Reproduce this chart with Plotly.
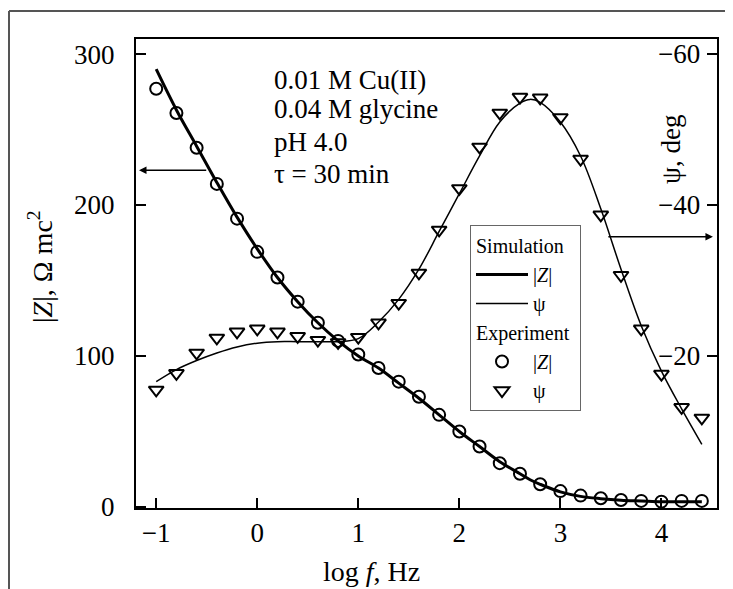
import plotly.graph_objects as go

# ---- data ----
log_f = [-1.0, -0.8, -0.6, -0.4, -0.2, 0.0, 0.2, 0.4, 0.6, 0.8, 1.0, 1.2, 1.4, 1.6,
         1.8, 2.0, 2.2, 2.4, 2.6, 2.8, 3.0, 3.2, 3.4, 3.6, 3.8, 4.0, 4.2, 4.4]

z_exp = [277, 261, 238, 214, 191, 169, 152, 136, 122, 110, 101, 92, 83, 73,
         61, 50, 40, 29, 22, 15, 10.5, 7.5, 5.8, 4.6, 4.0, 3.5, 4.0, 4.0]

psi_exp = [-15.5, -17.7, -20.4, -22.4, -23.2, -23.6, -23.2, -22.6, -22.1, -21.8, -22.5,
           -24.4, -27.0, -31.0, -36.7, -42.2, -47.7, -52.2, -54.3, -54.2, -51.6, -46.1,
           -38.7, -30.7, -23.6, -17.6, -13.2, -11.8]

sim_x = [-1.0, -0.8, -0.6, -0.4, -0.2, 0.0, 0.2, 0.4, 0.6, 0.8, 1.0, 1.2, 1.4, 1.6,
         1.8, 2.0, 2.2, 2.4, 2.6, 2.7, 2.8, 3.0, 3.2, 3.4, 3.6, 3.8, 4.0, 4.2, 4.4]

z_sim = [290, 263, 239, 215, 192, 171, 152, 136, 122, 110, 100, 92, 82, 72,
         61, 50, 40, 30, 22, 18, 15, 10, 7, 5.5, 4.5, 4.0, 3.5, 3.5, 3.5]

psi_sim = [-16.6, -18.2, -19.4, -20.4, -21.2, -21.7, -21.9, -21.9, -21.9, -21.9, -22.3,
           -24.5, -27.5, -31.5, -36.5, -41.5, -46.5, -51.0, -53.5, -54.0, -53.6, -51.0,
           -46.5, -39.5, -31.5, -24.0, -18.0, -13.0, -8.3]

x_ticks = [-1, 0, 1, 2, 3, 4]
z_ticks = [0, 100, 200, 300]
psi_ticks = [-60, -40, -20]
psi_tick_labels = ["−60", "−40", "−20"]

info_lines = ["0.01 M Cu(II)", "0.04 M glycine", "pH 4.0", "τ = 30 min"]

FONT = "Liberation Serif"
BLACK = "#000000"

# page is rendered with an 8 px body offset; margins compensate for it
W, H = 733, 589
ML, MT, MR, MB = 128, 31, 24, 89
PW, PH = W - ML - MR, H - MT - MB


def px(xr):
    """reference-picture x pixel -> paper x"""
    return (xr - 8 - ML) / PW


def py(yr):
    """reference-picture y pixel -> paper y"""
    return (H - MB - (yr - 8)) / PH


fig = go.Figure()

fig.add_trace(go.Scatter(
    x=sim_x, y=z_sim, mode="lines", name="|<i>Z</i>|",
    line=dict(color=BLACK, width=3, shape="spline"),
    legendgroup="sim", legendgrouptitle_text="Simulation"))
fig.add_trace(go.Scatter(
    x=sim_x, y=psi_sim, mode="lines", name="ψ", yaxis="y2",
    line=dict(color=BLACK, width=1.5, shape="spline"),
    legendgroup="sim", legendgrouptitle_text="Simulation"))
fig.add_trace(go.Scatter(
    x=log_f, y=z_exp, mode="markers", name="|<i>Z</i>|",
    marker=dict(symbol="circle-open", size=12, color=BLACK, line=dict(width=2)),
    legendgroup="exp", legendgrouptitle_text="Experiment"))
fig.add_trace(go.Scatter(
    x=log_f, y=psi_exp, mode="markers", name="ψ", yaxis="y2",
    marker=dict(symbol="triangle-down-open", size=13, color=BLACK, line=dict(width=2)),
    legendgroup="exp", legendgrouptitle_text="Experiment"))

fig.update_layout(
    width=W, height=H,
    margin=dict(l=ML, r=MR, t=MT, b=MB),
    paper_bgcolor="white", plot_bgcolor="white",
    font=dict(family=FONT, size=27, color=BLACK),
    showlegend=True,
    legend=dict(
        x=px(470), y=py(225), xanchor="left", yanchor="top",
        bordercolor="#666", borderwidth=1, bgcolor="white",
        font=dict(family=FONT, size=20, color=BLACK), traceorder="grouped",
        tracegroupgap=0, itemwidth=52,
        grouptitlefont=dict(family=FONT, size=20, color=BLACK)),
    xaxis=dict(
        range=[-1.2, 4.55], tickvals=x_ticks, ticks="inside", ticklen=10,
        tickwidth=2, tickcolor=BLACK, showline=True, linewidth=2,
        linecolor=BLACK, mirror=True, showgrid=False, zeroline=False,
        tickfont=dict(size=27, color=BLACK)),
    yaxis=dict(
        range=[-0.7, 310], tickvals=z_ticks, ticks="inside", ticklen=10,
        tickwidth=2, tickcolor=BLACK, showline=True, linewidth=2,
        linecolor=BLACK, showgrid=False, zeroline=False,
        ticklabelstandoff=14,
        tickfont=dict(size=27, color=BLACK)),
    yaxis2=dict(
        overlaying="y", side="right", range=[0.14, -62], tickvals=psi_ticks,
        ticks="inside", ticklen=10, tickwidth=2, tickcolor=BLACK,
        showticklabels=False, showline=True, linewidth=2,
        linecolor=BLACK, showgrid=False, zeroline=False),
)

# right-axis tick labels, drawn inside the plot next to the ticks
for val, lab in zip(psi_ticks, psi_tick_labels):
    fig.add_annotation(
        text=lab, xref="paper", yref="y2", x=px(702), y=val,
        xanchor="right", yanchor="middle", showarrow=False,
        font=dict(size=27, color=BLACK))

# text block, one annotation per line
for line, yc in zip(info_lines, [80, 109, 142, 174]):
    fig.add_annotation(
        text=line, xref="paper", yref="paper", x=px(272), y=py(yc),
        xanchor="left", yanchor="middle", align="left", showarrow=False,
        font=dict(size=27, color=BLACK))

# axis titles
fig.add_annotation(
    text="|<i>Z</i>|, Ω mc<sup>2</sup>", xref="paper", yref="paper",
    x=px(40), y=py(266), xanchor="center", yanchor="middle", textangle=-90,
    showarrow=False, font=dict(size=28, color=BLACK))
fig.add_annotation(
    text="ψ, deg", xref="paper", yref="paper",
    x=px(671), y=py(150), xanchor="center", yanchor="middle", textangle=-90,
    showarrow=False, font=dict(size=27, color=BLACK))
fig.add_annotation(
    text="log <i>f</i>, Hz", xref="paper", yref="paper",
    x=px(371), y=py(571), xanchor="center", yanchor="middle",
    showarrow=False, font=dict(size=28, color=BLACK))

# arrows
fig.add_annotation(x=-1.17, y=223, ax=-0.49, ay=223, xref="x", yref="y",
                   axref="x", ayref="y", text="", showarrow=True,
                   arrowhead=2, arrowsize=1, arrowwidth=1.5, arrowcolor=BLACK)
fig.add_annotation(x=4.51, y=179, ax=3.46, ay=179, xref="x", yref="y",
                   axref="x", ayref="y", text="", showarrow=True,
                   arrowhead=2, arrowsize=1, arrowwidth=1.5, arrowcolor=BLACK)

# outer frame (left and top edges)
fig.add_shape(type="line", xref="paper", yref="paper", x0=px(9), x1=px(9),
              y0=py(600), y1=py(11), line=dict(color="#555", width=2))
fig.add_shape(type="line", xref="paper", yref="paper", x0=px(9), x1=px(745),
              y0=py(11), y1=py(11), line=dict(color="#555", width=2))

fig.write_html("out.html")
